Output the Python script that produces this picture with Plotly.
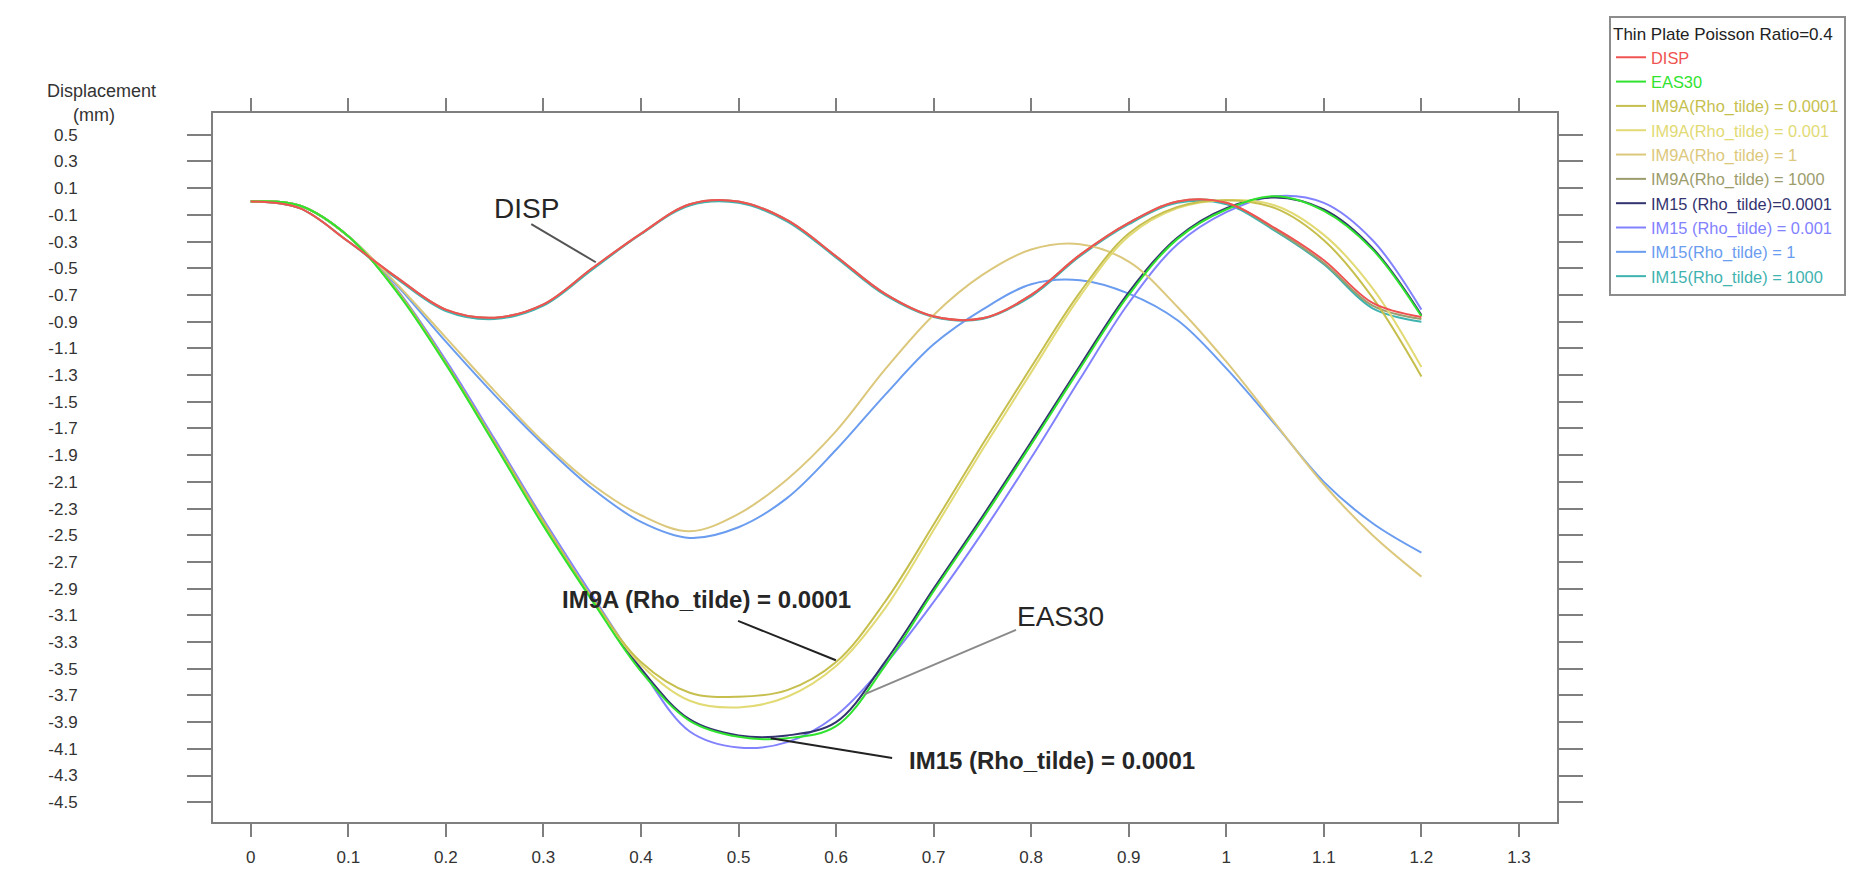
import plotly.graph_objects as go

# ---------------- data ----------------
x_vals = [0.0, 0.05, 0.10, 0.15, 0.20, 0.25, 0.30, 0.35, 0.40, 0.45, 0.50, 0.55, 0.60,
          0.65, 0.70, 0.75, 0.80, 0.85, 0.90, 0.95, 1.00, 1.05, 1.10, 1.15, 1.20]

disp = [0.0, -0.05, -0.30, -0.57, -0.81, -0.87, -0.77, -0.50, -0.24, -0.02, 0.00, -0.14, -0.41,
        -0.69, -0.86, -0.875, -0.70, -0.40, -0.16, 0.00, -0.01, -0.20, -0.44, -0.76, -0.865]
eas30 = [0.0, -0.03, -0.26, -0.68, -1.22, -1.82, -2.43, -2.99, -3.52, -3.89, -4.01, -4.02, -3.93,
         -3.48, -2.92, -2.38, -1.82, -1.25, -0.70, -0.28, -0.06, 0.04, -0.07, -0.36, -0.86]
im9a_00001 = [0.0, -0.03, -0.26, -0.67, -1.21, -1.80, -2.40, -2.97, -3.45, -3.68, -3.71, -3.66, -3.45,
              -3.00, -2.42, -1.82, -1.24, -0.68, -0.24, -0.04, 0.01, -0.05, -0.29, -0.72, -1.31]
im9a_0001 = [0.0, -0.03, -0.26, -0.67, -1.21, -1.81, -2.41, -2.98, -3.47, -3.74, -3.79, -3.71, -3.48,
             -3.05, -2.46, -1.86, -1.28, -0.71, -0.26, -0.05, 0.01, -0.03, -0.25, -0.65, -1.24]
im9a_1 = [0.0, -0.03, -0.26, -0.62, -1.02, -1.42, -1.80, -2.12, -2.35, -2.47, -2.34, -2.08, -1.72,
          -1.26, -0.85, -0.55, -0.36, -0.32, -0.45, -0.79, -1.20, -1.66, -2.12, -2.50, -2.81]
im9a_1000 = [0.0, -0.05, -0.30, -0.57, -0.81, -0.87, -0.77, -0.50, -0.24, -0.02, 0.00, -0.14, -0.41,
             -0.69, -0.86, -0.875, -0.70, -0.40, -0.16, 0.00, -0.01, -0.21, -0.46, -0.78, -0.88]
im15_00001 = [0.0, -0.03, -0.26, -0.67, -1.21, -1.81, -2.42, -2.98, -3.50, -3.88, -4.00, -4.00, -3.90,
              -3.45, -2.90, -2.36, -1.80, -1.23, -0.68, -0.27, -0.05, 0.03, -0.06, -0.35, -0.85]
im15_0001 = [0.0, -0.03, -0.26, -0.66, -1.19, -1.78, -2.38, -2.95, -3.50, -3.97, -4.09, -4.05, -3.85,
             -3.47, -3.00, -2.48, -1.92, -1.33, -0.76, -0.32, -0.08, 0.04, -0.01, -0.29, -0.81]
im15_1 = [0.0, -0.03, -0.26, -0.63, -1.05, -1.45, -1.82, -2.15, -2.40, -2.52, -2.44, -2.22, -1.86,
          -1.45, -1.07, -0.81, -0.62, -0.59, -0.69, -0.89, -1.25, -1.67, -2.10, -2.41, -2.63]
im15_1000 = [0.0, -0.05, -0.30, -0.58, -0.82, -0.88, -0.78, -0.51, -0.245, -0.03, -0.01, -0.15, -0.42,
             -0.70, -0.865, -0.88, -0.71, -0.41, -0.17, -0.01, -0.02, -0.22, -0.47, -0.80, -0.90]

series_names = ["DISP", "EAS30",
                "IM9A(Rho_tilde) = 0.0001", "IM9A(Rho_tilde) = 0.001",
                "IM9A(Rho_tilde) = 1", "IM9A(Rho_tilde) = 1000",
                "IM15 (Rho_tilde)=0.0001", "IM15 (Rho_tilde) = 0.001",
                "IM15(Rho_tilde) = 1", "IM15(Rho_tilde) = 1000"]
series_values = [disp, eas30, im9a_00001, im9a_0001, im9a_1, im9a_1000,
                 im15_00001, im15_0001, im15_1, im15_1000]
series_colors = ["#f05252", "#2fe32f", "#c6bf4e", "#e2da74", "#dcc87c", "#9c9c6c",
                 "#33336f", "#8282ff", "#6a9cf0", "#3fb3b0"]

x_ticks = [0, 0.1, 0.2, 0.3, 0.4, 0.5, 0.6, 0.7, 0.8, 0.9, 1.0, 1.1, 1.2, 1.3]
x_ticktext = ["0", "0.1", "0.2", "0.3", "0.4", "0.5", "0.6", "0.7", "0.8", "0.9", "1", "1.1", "1.2", "1.3"]
y_ticks = [0.5, 0.3, 0.1, -0.1, -0.3, -0.5, -0.7, -0.9, -1.1, -1.3, -1.5, -1.7, -1.9,
           -2.1, -2.3, -2.5, -2.7, -2.9, -3.1, -3.3, -3.5, -3.7, -3.9, -4.1, -4.3, -4.5]
y_ticktext = ["0.5", "0.3", "0.1", "-0.1", "-0.3", "-0.5", "-0.7", "-0.9", "-1.1", "-1.3",
              "-1.5", "-1.7", "-1.9", "-2.1", "-2.3", "-2.5", "-2.7", "-2.9", "-3.1", "-3.3",
              "-3.5", "-3.7", "-3.9", "-4.1", "-4.3", "-4.5"]

callout_text = ["DISP", "EAS30", "<b>IM9A (Rho_tilde) = 0.0001</b>", "<b>IM15 (Rho_tilde) = 0.0001</b>"]
callout_size = [28, 28, 24, 24]
text_x = [0.283, 0.830, 0.4675, 0.821]
text_y = [-0.051, -3.107, -2.979, -4.185]
tail_x = [0.286, 0.786, 0.498, 0.659]
tail_y = [-0.163, -3.204, -3.137, -4.17]
head_x = [0.3537, 0.6295, 0.5998, 0.533]
head_y = [-0.455, -3.69, -3.436, -4.02]
leader_color = ["#555555", "#8a8a8a", "#222222", "#222222"]

FONT = "Liberation Sans, Arial, sans-serif"

# ---------------- figure ----------------
fig = go.Figure()
order = list(range(len(series_names)))[::-1]  # draw DISP last (on top)
for i in order:
    fig.add_trace(go.Scatter(
        x=x_vals, y=series_values[i], mode="lines",
        line=dict(color=series_colors[i], width=2, shape="spline", smoothing=1.0),
        name='<span style="color:%s">%s</span>' % (series_colors[i], series_names[i]),
        legendrank=i + 1,
    ))

annotations = []
for i in range(len(callout_text)):
    annotations.append(dict(
        x=head_x[i], y=head_y[i], xref="x", yref="y",
        ax=tail_x[i], ay=tail_y[i], axref="x", ayref="y",
        text="", showarrow=True, arrowhead=0, arrowwidth=2,
        arrowcolor=leader_color[i], standoff=0, startstandoff=0,
    ))
    annotations.append(dict(
        x=text_x[i], y=text_y[i], xref="x", yref="y", text=callout_text[i],
        showarrow=False, xanchor="center", yanchor="middle",
        font=dict(family=FONT, size=callout_size[i], color="#262626"),
    ))

# y axis title (two lines)
annotations.append(dict(x=-0.0826, y=1.0314, xref="paper", yref="paper", text="Displacement",
                        showarrow=False, xanchor="center", yanchor="middle",
                        font=dict(family=FONT, size=18, color="#333333")))
annotations.append(dict(x=-0.0882, y=0.9972, xref="paper", yref="paper", text="(mm)",
                        showarrow=False, xanchor="center", yanchor="middle",
                        font=dict(family=FONT, size=18, color="#333333")))

fig.update_layout(
    width=1851, height=874,
    margin=dict(l=213, r=294, t=113, b=52, autoexpand=False),
    paper_bgcolor="white", plot_bgcolor="white",
    font=dict(family=FONT, size=17, color="#333333"),
    showlegend=True,
    legend=dict(
        x=1.0387, y=1.1368, xanchor="left", yanchor="top",
        bordercolor="#8c8c8c", borderwidth=2, bgcolor="white",
        font=dict(family=FONT, size=16.4, color="#222222"),
        title=dict(text="Thin Plate Poisson Ratio=0.4", font=dict(family=FONT, size=17, color="#222222")),
        traceorder="normal", itemwidth=30,
    ),
    annotations=annotations,
)

fig.update_xaxes(
    range=[-0.0387, 1.339], tickmode="array", tickvals=x_ticks, ticktext=x_ticktext,
    showgrid=False, zeroline=False,
    showline=True, linecolor="#7f7f7f", linewidth=2, mirror="ticks",
    ticks="outside", ticklen=13, tickwidth=2, tickcolor="#7f7f7f",
    tickfont=dict(family=FONT, size=17, color="#333333"), ticklabelstandoff=6,
)
fig.update_yaxes(
    range=[-4.648, 0.663], tickmode="array", tickvals=y_ticks, ticktext=y_ticktext,
    showgrid=False, zeroline=False,
    showline=True, linecolor="#7f7f7f", linewidth=2, mirror="ticks",
    ticks="outside", ticklen=24, tickwidth=2, tickcolor="#7f7f7f",
    tickfont=dict(family=FONT, size=17, color="#333333"), ticklabelstandoff=106,
)

fig.write_html("out.html")
